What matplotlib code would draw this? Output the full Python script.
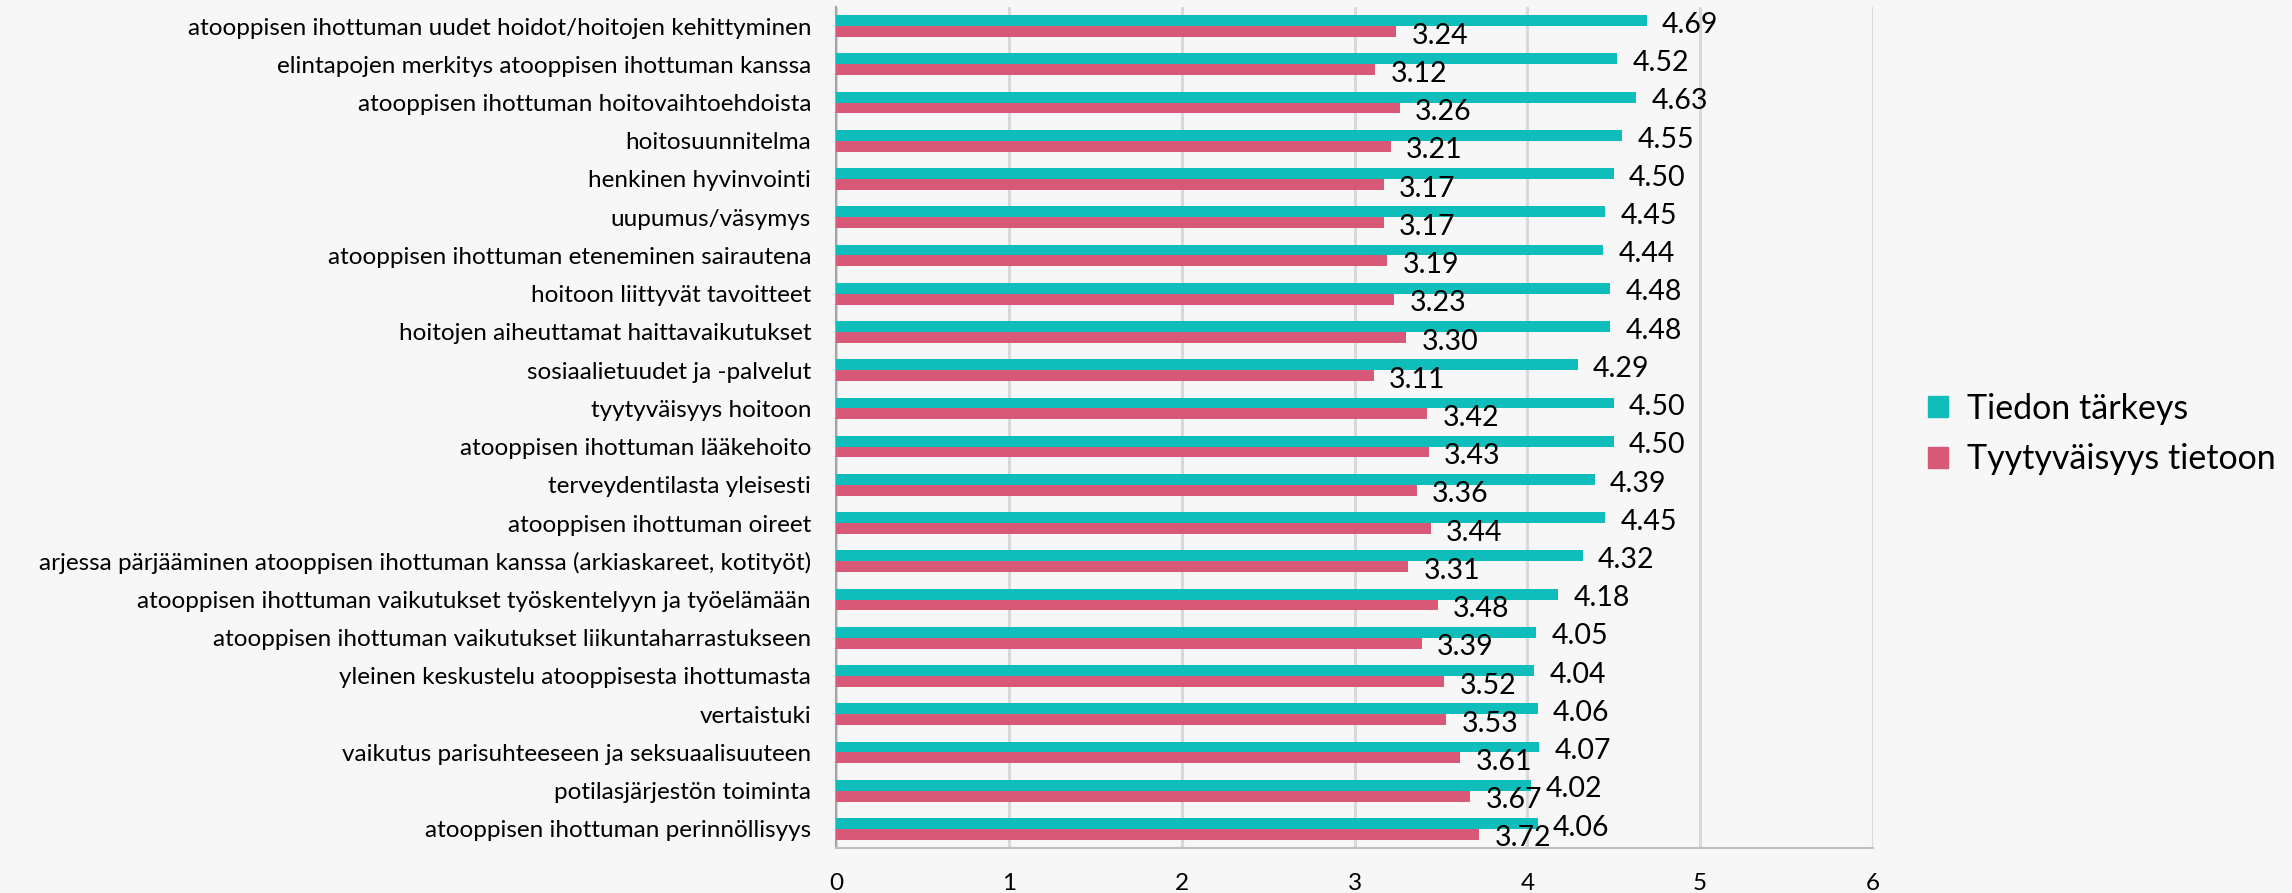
import matplotlib
matplotlib.use("Agg")
import matplotlib.pyplot as plt
import numpy as np
from matplotlib.patches import Patch

categories = [
    "atooppisen ihottuman uudet hoidot/hoitojen kehittyminen",
    "elintapojen merkitys atooppisen ihottuman kanssa",
    "atooppisen ihottuman hoitovaihtoehdoista",
    "hoitosuunnitelma",
    "henkinen hyvinvointi",
    "uupumus/väsymys",
    "atooppisen ihottuman eteneminen sairautena",
    "hoitoon liittyvät tavoitteet",
    "hoitojen aiheuttamat haittavaikutukset",
    "sosiaalietuudet ja -palvelut",
    "tyytyväisyys hoitoon",
    "atooppisen ihottuman lääkehoito",
    "terveydentilasta yleisesti",
    "atooppisen ihottuman oireet",
    "arjessa pärjääminen atooppisen ihottuman kanssa (arkiaskareet, kotityöt)",
    "atooppisen ihottuman vaikutukset työskentelyyn ja työelämään",
    "atooppisen ihottuman vaikutukset liikuntaharrastukseen",
    "yleinen keskustelu atooppisesta ihottumasta",
    "vertaistuki",
    "vaikutus parisuhteeseen ja seksuaalisuuteen",
    "potilasjärjestön toiminta",
    "atooppisen ihottuman perinnöllisyys",
]
tarkeys = [4.69, 4.52, 4.63, 4.55, 4.50, 4.45, 4.44, 4.48, 4.48, 4.29, 4.50,
           4.50, 4.39, 4.45, 4.32, 4.18, 4.05, 4.04, 4.06, 4.07, 4.02, 4.06]
tyytyvaisyys = [3.24, 3.12, 3.26, 3.21, 3.17, 3.17, 3.19, 3.23, 3.30, 3.11, 3.42,
                3.43, 3.36, 3.44, 3.31, 3.48, 3.39, 3.52, 3.53, 3.61, 3.67, 3.72]
series_names = ["Tiedon tärkeys", "Tyytyväisyys tietoon"]
xticks = [0, 1, 2, 3, 4, 5, 6]

TEAL = "#0FBEBB"
PINK = "#D85877"
BG = "#F7F7F7"

plt.rcParams['font.family'] = ['Lato', 'DejaVu Sans']

fig = plt.figure(figsize=(22.92, 8.93), dpi=100, facecolor=BG)
ax = fig.add_axes([0.3648, 0.0504, 0.8172 - 0.3648, 0.9922 - 0.0504])
ax.set_facecolor(BG)

n = len(categories)
y = np.arange(n)[::-1]
h = 0.284
b1 = ax.barh(y + h / 2, tarkeys, height=h, color=TEAL, zorder=3)
b2 = ax.barh(y - h / 2, tyytyvaisyys, height=h, color=PINK, zorder=3)

for bars, vals in ((b1, tarkeys), (b2, tyytyvaisyys)):
    for bar, v in zip(bars, vals):
        ax.annotate(f"{v:.2f}", (bar.get_width(), bar.get_y() + bar.get_height() / 2),
                    xytext=(11, -3), textcoords="offset points",
                    ha="left", va="center", fontsize=20.5, color="black", zorder=5)

ax.set_xlim(0, 6)
ax.set_ylim(-0.5, n - 0.5)
ax.set_xticks(xticks)
ax.set_xticklabels([str(t) for t in xticks])
ax.set_yticks(y)
ax.set_yticklabels(categories)
ax.tick_params(axis="y", length=0, pad=18, labelsize=17.5)
ax.tick_params(axis="x", length=0, pad=18, labelsize=17.5)
ax.xaxis.grid(True, color="#D9D9D9", linewidth=2.2, zorder=0)
ax.set_axisbelow(True)
for s in ("top", "right"):
    ax.spines[s].set_visible(False)
ax.spines["left"].set_color("#A6A6A6")
ax.spines["left"].set_linewidth(1.5)
ax.spines["bottom"].set_color("#BFBFBF")
ax.spines["bottom"].set_linewidth(1.5)

handles = [Patch(color=TEAL), Patch(color=PINK)]
fig.legend(handles, series_names, loc="center left", bbox_to_anchor=(0.8412, 0.514),
           frameon=False, fontsize=24.5, handlelength=0.6, handleheight=0.6,
           handletextpad=0.55, labelspacing=0.55, borderpad=0, borderaxespad=0)

fig.savefig("out.png", dpi=100, facecolor=BG)
